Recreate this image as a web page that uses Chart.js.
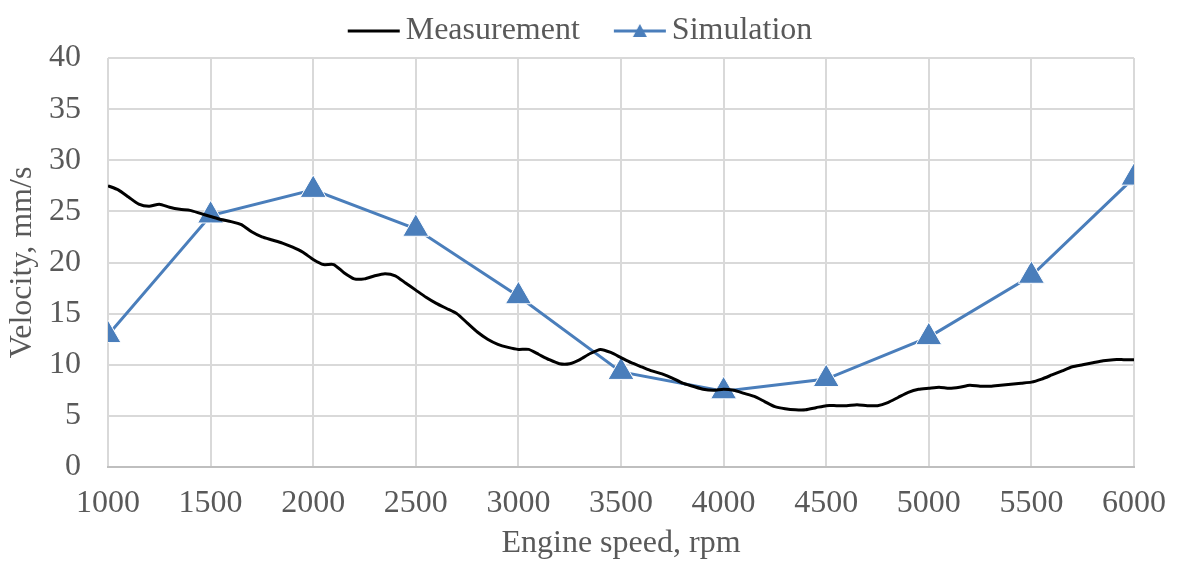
<!DOCTYPE html>
<html lang="en">

<head>
    <meta charset="UTF-8">
    <script src="https://cdn.jsdelivr.net/npm/chart.js"></script>
    <title>Velocity vs engine speed</title>
    <style>
        body {
            margin: 0;
            background: #ffffff;
        }

        .wrap {
            width: 1177px;
            height: 561px;
        }
    </style>
</head>

<body>
    <div class="wrap">
        <canvas id="velocityChart" width="1177" height="561"></canvas>
    </div>
    <script>
        // data
        const measurementRpm = [1000, 1050, 1100, 1150, 1200, 1250, 1300, 1350, 1400, 1450,
            1500, 1550, 1600, 1650, 1700, 1750, 1800, 1850, 1900, 1950,
            2000, 2050, 2100, 2150, 2200, 2250, 2300, 2350, 2400, 2450,
            2500, 2550, 2600, 2650, 2700, 2750, 2800, 2850, 2900, 2950,
            3000, 3050, 3100, 3150, 3200, 3250, 3300, 3350, 3400, 3450,
            3500, 3550, 3600, 3650, 3700, 3750, 3800, 3850, 3900, 3950,
            4000, 4050, 4100, 4150, 4200, 4250, 4300, 4350, 4400, 4450,
            4500, 4550, 4600, 4650, 4700, 4750, 4800, 4850, 4900, 4950,
            5000, 5050, 5100, 5150, 5200, 5250, 5300, 5350, 5400, 5450,
            5500, 5550, 5600, 5650, 5700, 5750, 5800, 5850, 5900, 5950, 6000];
        const measurementValues = [27.5, 27.1, 26.4, 25.7, 25.5, 25.7, 25.4, 25.2, 25.1, 24.8,
            24.5, 24.2, 24.0, 23.7, 23.0, 22.5, 22.2, 21.9, 21.5, 21.0,
            20.3, 19.8, 19.8, 19.0, 18.4, 18.4, 18.7, 18.9, 18.7, 18.0,
            17.3, 16.6, 16.0, 15.5, 15.0, 14.1, 13.2, 12.5, 12.0, 11.7,
            11.5, 11.5, 11.0, 10.5, 10.1, 10.1, 10.5, 11.1, 11.5, 11.2,
            10.7, 10.2, 9.8, 9.4, 9.1, 8.7, 8.2, 7.9, 7.6, 7.5,
            7.6, 7.5, 7.2, 6.9, 6.4, 5.9, 5.7, 5.6, 5.6, 5.8,
            6.0, 6.0, 6.0, 6.1, 6.0, 6.0, 6.3, 6.8, 7.3, 7.6,
            7.7, 7.8, 7.7, 7.8, 8.0, 7.9, 7.9, 8.0, 8.1, 8.2,
            8.3, 8.6, 9.0, 9.4, 9.8, 10.0, 10.2, 10.4, 10.5, 10.5, 10.5];

        const simulationRpm = [1000, 1500, 2000, 2500, 3000, 3500, 4000, 4500, 5000, 5500, 6000];
        const simulationValues = [12.9, 24.6, 27.1, 23.3, 16.7, 9.3, 7.4, 8.6, 12.7, 18.7, 28.3];

        const seriesNames = ['Measurement', 'Simulation'];

        const blue = '#4a7ebb';
        const grey = '#595959';
        const gridGrey = '#d9d9d9';
        const fontFamily = '"Liberation Serif", "Times New Roman", serif';
        const fontSize = 32;

        function toPoints(xs, ys) {
            return xs.map(function (x, i) {
                return { x: x, y: ys[i] };
            });
        }

        // legend symbols: line, and line with a small triangle for the simulation
        function legendImage(withTriangle, colour) {
            const c = document.createElement('canvas');
            c.width = 54;
            c.height = 20;
            const g = c.getContext('2d');
            g.strokeStyle = colour;
            g.lineWidth = 3;
            g.beginPath();
            g.moveTo(1, 10);
            g.lineTo(53, 10);
            g.stroke();
            if (withTriangle) {
                g.fillStyle = colour;
                g.beginPath();
                g.moveTo(27, 3);
                g.lineTo(34, 16);
                g.lineTo(20, 16);
                g.closePath();
                g.fill();
            }
            return c;
        }

        const legendIcons = [legendImage(false, '#000000'), legendImage(true, blue)];

        // legend: fixed height, wide gap between the two entries, nudged into place
        const legendTweak = {
            id: 'legendTweak',
            beforeInit: function (chart) {
                const origFit = chart.legend.fit;
                chart.legend.fit = function () {
                    origFit.bind(chart.legend)();
                    this.height = 58;
                };
            },
            afterLayout: function (chart) {
                const lg = chart.legend;
                lg.top -= 29;
                lg.left += 13;
                lg.right += 13;
            }
        };

        const ctx = document.getElementById('velocityChart').getContext('2d');
        const velocityChart = new Chart(ctx, {
            type: 'line',
            plugins: [legendTweak],
            data: {
                datasets: [{
                    label: seriesNames[0],
                    data: toPoints(measurementRpm, measurementValues),
                    borderColor: '#000000',
                    backgroundColor: '#000000',
                    borderWidth: 3,
                    pointRadius: 0,
                    tension: 0.2,
                    fill: false
                }, {
                    label: seriesNames[1],
                    data: toPoints(simulationRpm, simulationValues),
                    borderColor: blue,
                    backgroundColor: blue,
                    borderWidth: 3,
                    pointStyle: 'triangle',
                    pointRadius: 15,
                    pointBorderColor: '#ffffff',
                    pointBorderWidth: 1,
                    pointBackgroundColor: blue,
                    tension: 0,
                    fill: false
                }]
            },
            options: {
                responsive: false,
                animation: false,
                layout: {
                    padding: { left: 3, right: 36, top: 0, bottom: 0 }
                },
                plugins: {
                    tooltip: { enabled: false },
                    legend: {
                        position: 'top',
                        labels: {
                            usePointStyle: true,
                            pointStyleWidth: 32,
                            padding: 44,
                            color: grey,
                            font: { family: fontFamily, size: fontSize },
                            generateLabels: function (chart) {
                                return chart.data.datasets.map(function (ds, i) {
                                    return {
                                        text: ds.label,
                                        pointStyle: legendIcons[i],
                                        fillStyle: ds.borderColor,
                                        strokeStyle: ds.borderColor,
                                        lineWidth: 0,
                                        fontColor: grey,
                                        datasetIndex: i
                                    };
                                });
                            }
                        }
                    }
                },
                scales: {
                    x: {
                        type: 'linear',
                        min: 1000,
                        max: 6000,
                        afterFit: function (scale) {
                            scale.height = 94;
                        },
                        ticks: {
                            stepSize: 500,
                            color: grey,
                            padding: 11,
                            maxRotation: 0,
                            font: { family: fontFamily, size: fontSize },
                            callback: function (value) {
                                return String(value);
                            }
                        },
                        grid: {
                            color: gridGrey,
                            lineWidth: 2,
                            drawTicks: true,
                            tickLength: 6,
                            tickColor: 'rgba(0,0,0,0)'
                        },
                        border: { color: '#bfbfbf', width: 2 },
                        title: {
                            display: true,
                            text: 'Engine speed, rpm',
                            color: grey,
                            padding: { top: 0, bottom: -2 },
                            font: { family: fontFamily, size: fontSize }
                        }
                    },
                    y: {
                        min: 0,
                        max: 40,
                        afterFit: function (scale) {
                            scale.width = 105;
                        },
                        ticks: {
                            stepSize: 5,
                            color: grey,
                            padding: 27,
                            font: { family: fontFamily, size: fontSize }
                        },
                        grid: {
                            color: gridGrey,
                            lineWidth: 2,
                            drawTicks: false
                        },
                        border: { display: false },
                        title: {
                            display: true,
                            text: 'Velocity, mm/s',
                            color: grey,
                            padding: { top: 0, bottom: 0 },
                            font: { family: fontFamily, size: fontSize }
                        }
                    }
                }
            }
        });
    </script>
</body>

</html>
